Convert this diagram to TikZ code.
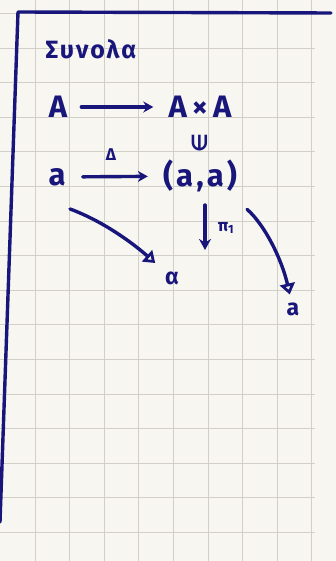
\documentclass[tikz,border=0pt]{standalone}
\usepackage{fontspec}
\setmainfont{Fira Sans}
\newfontfamily\symfont{DejaVu Sans}
\usepackage{tikz}
\usetikzlibrary{arrows.meta}
\definecolor{inkblue}{RGB}{24,22,122}
\definecolor{paper}{RGB}{248,246,241}
\definecolor{gridgray}{RGB}{210,206,200}

\begin{document}
\begin{tikzpicture}[x=1pt, y=-1pt,
    big/.style={text=inkblue, inner sep=0pt, font=\bfseries\fontsize{31}{31}\selectfont},
    small/.style={text=inkblue, inner sep=0pt, font=\bfseries\fontsize{17}{17}\selectfont},
    pen/.style={draw=inkblue, line width=3.4pt, line cap=round, line join=round}]
    \useasboundingbox[fill=paper] (0,0) rectangle (336,561);
    % grid paper
    \foreach \i in {0,...,8}
        \draw[gridgray, line width=1pt] (35+34.6*\i,0) -- (35+34.6*\i,561);
    \foreach \j in {0,...,15}
        \draw[gridgray, line width=1pt] (0,13.5+34.6*\j) -- (315,13.5+34.6*\j);
    % margin lines
    \coordinate (corner) at (18,12);
    \coordinate (topend) at (331,13);
    \coordinate (botend) at (0,522);
    \draw[pen] (topend) -- (corner) -- (botend);
    % notes
    \node[small, font=\bfseries\fontsize{25}{25}\selectfont\addfontfeatures{LetterSpace=8}] (title) at (91,49) {Συνολα};
    \node[big] (setA) at (58,107) {A};
    \node[big, font=\bfseries\fontsize{31}{31}\selectfont\addfontfeatures{LetterSpace=10}] (prodA) at (200,107) {A\,×\,A};
    \node[text=inkblue, rotate=90, inner sep=0pt, font=\symfont\bfseries\fontsize{21}{21}\selectfont] (inMark) at (200,143) {∈};
    \node[big] (elemA) at (57,177) {a};
    \node[big, font=\bfseries\fontsize{31}{31}\selectfont\addfontfeatures{LetterSpace=10}] (pairA) at (200,176) {(a,a)};
    \node[small] (delta) at (111,155) {Δ};
    \node[small] (proj) at (226,228) {π\textsubscript{1}};
    \node[small, font=\bfseries\fontsize{23}{23}\selectfont] (img1) at (172,278) {α};
    \node[small, font=\bfseries\fontsize{23}{23}\selectfont] (img2) at (293,309) {a};
    % arrows
    \draw[pen, -{Stealth[length=10pt, width=11pt]}, shorten <=14pt, shorten >=15pt] (setA) -- (prodA);
    \draw[pen, -{Stealth[length=10pt, width=11pt]}, shorten <=17pt, shorten >=15pt] (elemA) -- (pairA);
    \coordinate (projStart) at (205,205);
    \coordinate (projEnd) at (205,250);
    \draw[pen, -{Stealth[length=11pt, width=12pt]}] (projStart) -- (projEnd);
    \draw[pen, -{Triangle[open, length=11pt, width=15pt]}, shorten >=13pt] ([shift={(13,23)}]elemA.south) .. controls (105,222) and (135,245) .. (img1);
    \draw[pen, -{Triangle[open, length=11pt, width=15pt]}, shorten >=8pt] ([shift={(47,17)}]pairA.south) .. controls (265,225) and (282,260) .. (img2);
\end{tikzpicture}
\end{document}
